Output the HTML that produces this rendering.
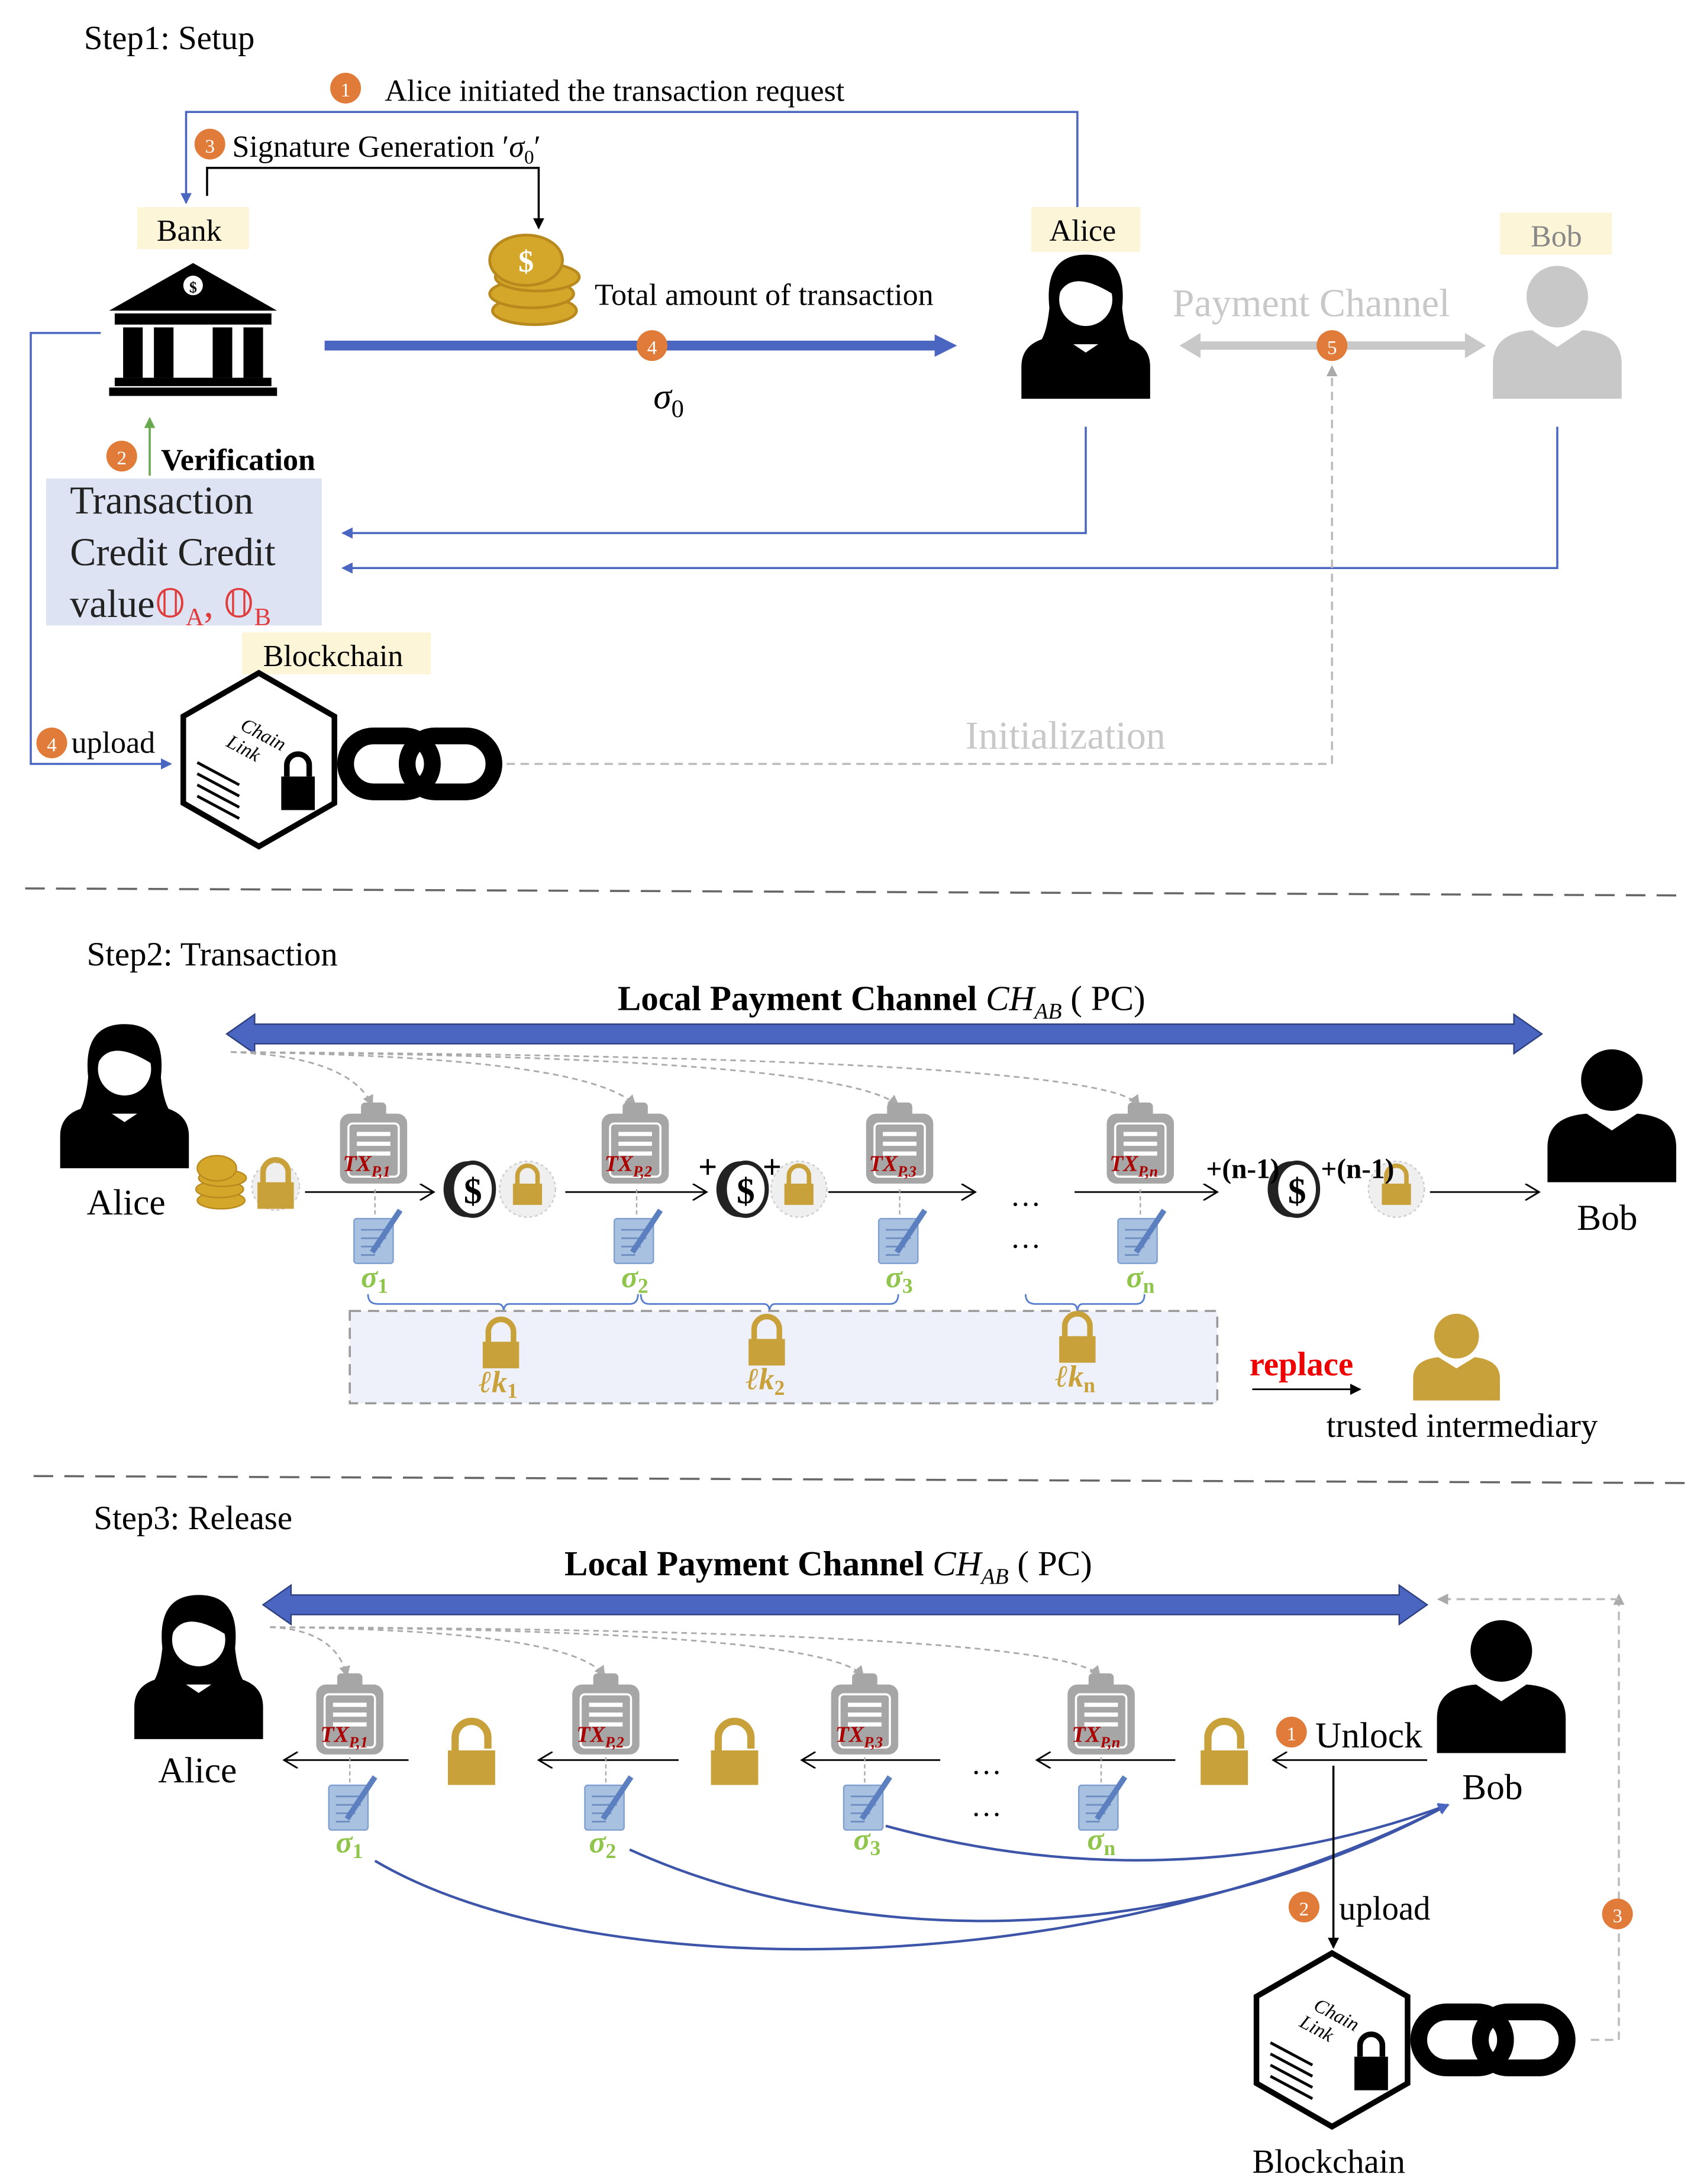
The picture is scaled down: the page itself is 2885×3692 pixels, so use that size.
<!DOCTYPE html>
<html><head><meta charset="utf-8"><style>
html,body{margin:0;padding:0;background:#fff;}
svg{display:block;}
text{font-family:"Liberation Serif",serif;}
</style></head><body>
<svg width="2885" height="3692" viewBox="0 0 1220 1561" preserveAspectRatio="none" xmlns="http://www.w3.org/2000/svg">
<defs>
<marker id="ab" markerWidth="8" markerHeight="8" refX="7" refY="4" orient="auto" markerUnits="userSpaceOnUse"><path d="M0,0 L8,4 L0,8z" fill="#4a66c0"/></marker>
<marker id="ak" markerWidth="8" markerHeight="8" refX="7" refY="4" orient="auto" markerUnits="userSpaceOnUse"><path d="M0,0 L8,4 L0,8z" fill="#000"/></marker>
<marker id="ao" markerWidth="12" markerHeight="12" refX="10" refY="6" orient="auto" markerUnits="userSpaceOnUse"><path d="M0,0 L10,6 L0,12" fill="none" stroke="#000" stroke-width="1.2"/></marker>
<marker id="ag" markerWidth="8" markerHeight="8" refX="7" refY="4" orient="auto" markerUnits="userSpaceOnUse"><path d="M0,0 L8,4 L0,8z" fill="#aaa"/></marker>
<marker id="agr" markerWidth="8" markerHeight="8" refX="7" refY="4" orient="auto" markerUnits="userSpaceOnUse"><path d="M0,0 L8,4 L0,8z" fill="#6aa84f"/></marker>
<g id="person"><circle cx="0" cy="-28" r="22"/><path d="M-46,45 L-46,20 Q-46,-2 -18,-4 L0,8 L18,-4 Q46,-2 46,20 L46,45z"/></g>
<g id="woman"><path d="M-26,-20 Q-30,-58 0,-58 Q30,-58 26,-20 Q28,0 34,6 L-34,6 Q-28,0 -26,-20z"/><circle cx="0" cy="-26" r="19" fill="#fff"/><path d="M-19,-30 Q-10,-48 19,-30 L19,-44 Q0,-56 -19,-44z"/><path d="M-46,45 L-46,22 Q-46,2 -18,0 L0,12 L18,0 Q46,2 46,22 L46,45z"/></g>
<g id="clip"><rect x="-24" y="-22" width="48" height="50" rx="7" fill="#a6a6a6"/><rect x="-18" y="-15" width="36" height="38" rx="3" fill="none" stroke="#fff" stroke-width="1.5"/><rect x="-9" y="-30" width="18" height="11" rx="3" fill="#a6a6a6"/><rect x="-12" y="-9" width="24" height="3" fill="#fff"/><rect x="-12" y="-2" width="24" height="3" fill="#fff"/><rect x="-12" y="5" width="24" height="3" fill="#fff"/></g>
<g id="sig"><rect x="-17" y="-14" width="28" height="32" rx="2" fill="#a9c1e1" stroke="#7e9fd0"/><path d="M-12,-6h18M-12,0h18M-12,6h14M-12,12h10" stroke="#6f8fc3" stroke-width="1.2"/><path d="M-4,10 L16,-20" stroke="#5b7fbf" stroke-width="4"/></g>
<g id="lock"><path d="M-9,-2 L-9,-10 A9,9 0 0 1 9,-10 L9,-2" fill="none" stroke="#c9a13a" stroke-width="4"/><rect x="-13" y="-3" width="26" height="19" fill="#c9a13a"/></g>
<g id="lockc"><circle r="20" fill="#efefef" stroke="#ccc" stroke-dasharray="2,2"/><use href="#lock" transform="scale(0.8) translate(0,-2)"/></g>
<g id="coin"><ellipse cx="-2" rx="17" ry="20" fill="#222"/><ellipse cx="2" rx="15" ry="19" fill="#fff" stroke="#222" stroke-width="3"/><text x="2" y="10" text-anchor="middle" font-family="Liberation Sans,sans-serif" font-weight="bold" font-size="26" fill="#000">$</text></g>
<g id="chainblk"><path d="M0,-62 L54,-31 L54,31 L0,62 L-54,31 L-54,-31z" fill="#fff" stroke="#000" stroke-width="4"/><text x="-14" y="-22" font-size="14" font-style="italic" transform="rotate(28 -14 -22)" font-family="Liberation Mono,monospace">Chain</text><text x="-24" y="-10" font-size="14" font-style="italic" transform="rotate(28 -24 -10)" font-family="Liberation Mono,monospace">Link</text><path d="M-44,2 L-14,18 M-44,10 L-14,26 M-44,18 L-14,34 M-44,26 L-14,42" stroke="#000" stroke-width="2"/><rect x="16" y="12" width="24" height="24" fill="#000"/><path d="M20,12 L20,4 A8,8 0 0 1 36,4 L36,12" fill="none" stroke="#000" stroke-width="4"/></g>
<g id="chain"><rect x="0" y="-20" width="62" height="40" rx="20" fill="none" stroke="#000" stroke-width="12"/><rect x="44" y="-20" width="62" height="40" rx="20" fill="none" stroke="#000" stroke-width="12"/></g>
<g id="num"><circle r="11" fill="#e07b39"/></g>
</defs>

<!-- STEP 1 -->
<text x="60" y="35" font-size="24">Step1: Setup</text>
<polyline points="770,150 770,80 133,80 133,145" fill="none" stroke="#4a66c0" stroke-width="1.5" marker-end="url(#ab)"/>
<use href="#num" x="247" y="63"/><text x="247" y="69" font-size="14" fill="#fff" text-anchor="middle">1</text>
<rect x="268" y="50" width="360" height="26" fill="#fff"/>
<text x="275" y="72" font-size="22">Alice initiated the transaction request</text>
<polyline points="148,140 148,120 385,120 385,163" fill="none" stroke="#000" stroke-width="1.5" marker-end="url(#ak)"/>
<rect x="140" y="90" width="270" height="26" fill="#fff"/>
<use href="#num" x="150" y="103"/><text x="150" y="109" font-size="14" fill="#fff" text-anchor="middle">3</text>
<text x="166" y="112" font-size="22">Signature Generation ′<tspan font-style="italic">σ</tspan><tspan font-size="14" dy="5">0</tspan><tspan dy="-5">′</tspan></text>
<rect x="98" y="148" width="80" height="30" fill="#fdf5d8"/><text x="112" y="172" font-size="22">Bank</text>
<g fill="#000"><path d="M78,222 L138,188 L198,222z"/><circle cx="138" cy="204" r="7" fill="#fff"/><text x="138" y="209" font-size="11" text-anchor="middle" fill="#000" font-weight="bold">$</text><rect x="82" y="224" width="112" height="8"/><rect x="88" y="234" width="14" height="36"/><rect x="110" y="234" width="14" height="36"/><rect x="152" y="234" width="14" height="36"/><rect x="174" y="234" width="14" height="36"/><rect x="82" y="270" width="112" height="6"/><rect x="78" y="277" width="120" height="6"/></g>
<g fill="#d4a62a" stroke="#b8891c" stroke-width="2"><ellipse cx="382" cy="222" rx="30" ry="10"/><ellipse cx="380" cy="210" rx="30" ry="10"/><ellipse cx="384" cy="198" rx="30" ry="10"/><ellipse cx="376" cy="186" rx="26" ry="18"/></g>
<text x="376" y="194" font-size="22" text-anchor="middle" font-weight="bold" fill="#fff">$</text>
<text x="425" y="218" font-size="22">Total amount of transaction</text>
<line x1="232" y1="247" x2="672" y2="247" stroke="#4a66c0" stroke-width="7"/><path d="M668,239 L684,247 L668,255z" fill="#4a66c0"/>
<use href="#num" x="466" y="247"/><text x="466" y="253" font-size="14" fill="#fff" text-anchor="middle">4</text>
<text x="467" y="292" font-size="26" font-style="italic">σ<tspan font-size="18" dy="6" font-style="normal">0</tspan></text>
<rect x="737" y="148" width="78" height="32" fill="#fdf5d8"/><text x="750" y="172" font-size="22">Alice</text>
<use href="#woman" x="776" y="240" fill="#000"/>
<text x="838" y="226" font-size="28" fill="#c8c8c8">Payment Channel</text>
<line x1="855" y1="247" x2="1050" y2="247" stroke="#c8c8c8" stroke-width="6"/><path d="M858,238 L843,247 L858,256z M1047,238 L1062,247 L1047,256z" fill="#c8c8c8"/>
<use href="#num" x="952" y="247"/><text x="952" y="253" font-size="14" fill="#fff" text-anchor="middle">5</text>
<rect x="1072" y="152" width="80" height="30" fill="#fdf5d8"/><text x="1094" y="176" font-size="22" fill="#888">Bob</text>
<use href="#person" x="1113" y="240" fill="#c8c8c8"/>
<line x1="107" y1="340" x2="107" y2="299" stroke="#6aa84f" stroke-width="1.5" marker-end="url(#agr)"/>
<use href="#num" x="87" y="326"/><text x="87" y="332" font-size="14" fill="#fff" text-anchor="middle">2</text>
<text x="115" y="336" font-size="22" font-weight="bold">Verification</text>
<rect x="33" y="342" width="197" height="105" fill="#dde3f3"/>
<text x="50" y="367" font-size="28" fill="#222">Transaction</text>
<text x="50" y="404" font-size="28" fill="#222">Credit Credit</text>
<text x="50" y="441" font-size="28" fill="#222">value<tspan fill="#e03c3c">𝕆<tspan font-size="18" dy="6">A</tspan><tspan dy="-6">,  𝕆</tspan><tspan font-size="18" dy="6">B</tspan></tspan></text>
<polyline points="776,305 776,381 245,381" fill="none" stroke="#4a66c0" stroke-width="1.5" marker-end="url(#ab)"/>
<polyline points="1113,305 1113,406 245,406" fill="none" stroke="#4a66c0" stroke-width="1.5" marker-end="url(#ab)"/>
<polyline points="72,238 22,238 22,546 122,546" fill="none" stroke="#4a66c0" stroke-width="1.5" marker-end="url(#ab)"/>
<rect x="24" y="518" width="90" height="26" fill="#fff"/>
<use href="#num" x="37" y="531"/><text x="37" y="537" font-size="14" fill="#fff" text-anchor="middle">4</text>
<text x="51" y="538" font-size="22">upload</text>
<rect x="173" y="452" width="135" height="30" fill="#fdf5d8"/><text x="188" y="476" font-size="22">Blockchain</text>
<use href="#chainblk" x="185" y="543"/>
<use href="#chain" x="247" y="546"/>
<polyline points="362,546 952,546 952,262" fill="none" stroke="#bbb" stroke-width="1.5" stroke-dasharray="6,4" marker-end="url(#ag)"/>
<rect x="685" y="510" width="170" height="32" fill="#fff"/>
<text x="690" y="535" font-size="28" fill="#c8c8c8">Initialization</text>
<line x1="18" y1="635" x2="1200" y2="640" stroke="#666" stroke-width="1.5" stroke-dasharray="14,8"/>

<!-- STEP 2 -->
<text x="62" y="690" font-size="24">Step2: Transaction</text>
<text x="630" y="722" font-size="25" font-weight="bold" text-anchor="middle">Local Payment Channel <tspan font-style="italic" font-weight="normal">CH</tspan><tspan font-style="italic" font-weight="normal" font-size="16" dy="6">AB</tspan><tspan font-weight="normal" dy="-6"> ( PC)</tspan></text>
<path d="M162,739 L182,725 L182,732 L1082,732 L1082,725 L1102,739 L1082,753 L1082,746 L182,746 L182,753z" fill="#4a66c0" stroke="#2e3f80"/>
<use href="#woman" x="89" y="790" fill="#000"/>
<text x="62" y="868" font-size="26">Alice</text>
<use href="#person" x="1152" y="800" fill="#000"/>
<text x="1127" y="879" font-size="26">Bob</text>
<g fill="none" stroke="#aaa" stroke-dasharray="4,3" stroke-width="1.2">
<path d="M165,752 Q250,755 266,790" marker-end="url(#ag)"/>
<path d="M165,752 Q420,755 454,790" marker-end="url(#ag)"/>
<path d="M165,752 Q600,755 642,790" marker-end="url(#ag)"/>
<path d="M165,752 Q790,755 814,790" marker-end="url(#ag)"/>
</g>
<g fill="#d4a62a" stroke="#b8891c"><ellipse cx="158" cy="858" rx="17" ry="6"/><ellipse cx="157" cy="850" rx="17" ry="6"/><ellipse cx="159" cy="842" rx="17" ry="6"/><ellipse cx="155" cy="835" rx="14" ry="9"/></g>
<circle cx="197" cy="848" r="17" fill="#efefef" stroke="#ccc" stroke-dasharray="2,2"/><use href="#lock" x="197" y="848"/>
<g stroke="#000" stroke-width="1.2" fill="none">
<line x1="218" y1="852" x2="310" y2="852" marker-end="url(#ao)"/>
<line x1="404" y1="852" x2="505" y2="852" marker-end="url(#ao)"/>
<line x1="592" y1="852" x2="697" y2="852" marker-end="url(#ao)"/>
<line x1="768" y1="852" x2="870" y2="852" marker-end="url(#ao)"/>
<line x1="1022" y1="852" x2="1100" y2="852" marker-end="url(#ao)"/>
</g>
<g stroke="#aaa" stroke-dasharray="3,2"><line x1="268" y1="850" x2="268" y2="870"/><line x1="455" y1="850" x2="455" y2="870"/><line x1="643" y1="850" x2="643" y2="870"/><line x1="815" y1="850" x2="815" y2="870"/></g>
<use href="#clip" x="267" y="818"/><text x="245" y="837" font-size="16" font-weight="bold" font-style="italic" fill="#a00">TX<tspan font-size="11" dy="4">P,1</tspan></text>
<use href="#clip" x="454" y="818"/><text x="432" y="837" font-size="16" font-weight="bold" font-style="italic" fill="#a00">TX<tspan font-size="11" dy="4">P,2</tspan></text>
<use href="#clip" x="643" y="818"/><text x="621" y="837" font-size="16" font-weight="bold" font-style="italic" fill="#a00">TX<tspan font-size="11" dy="4">P,3</tspan></text>
<use href="#clip" x="815" y="818"/><text x="793" y="837" font-size="16" font-weight="bold" font-style="italic" fill="#a00">TX<tspan font-size="11" dy="4">P,n</tspan></text>
<use href="#sig" x="270" y="885"/><use href="#sig" x="456" y="885"/><use href="#sig" x="645" y="885"/><use href="#sig" x="816" y="885"/>
<g font-size="22" font-weight="bold" font-style="italic" fill="#8fc54a"><text x="258" y="920">σ<tspan font-size="15" dy="4" font-style="normal">1</tspan></text><text x="444" y="920">σ<tspan font-size="15" dy="4" font-style="normal">2</tspan></text><text x="633" y="920">σ<tspan font-size="15" dy="4" font-style="normal">3</tspan></text><text x="805" y="920">σ<tspan font-size="15" dy="4" font-style="normal">n</tspan></text></g>
<use href="#coin" x="336" y="850"/><use href="#lockc" x="377" y="850"/>
<use href="#coin" x="531" y="850"/><use href="#lockc" x="571" y="850"/>
<text x="499" y="842" font-size="24" font-weight="bold">+</text><text x="545" y="842" font-size="24" font-weight="bold">+</text>
<use href="#coin" x="925" y="850"/><use href="#lockc" x="998" y="850"/>
<text x="862" y="842" font-size="20" font-weight="bold">+(n-1)</text><text x="944" y="842" font-size="20" font-weight="bold">+(n-1)</text>
<text x="722" y="862" font-size="22">…</text><text x="722" y="892" font-size="22">…</text>
<g fill="none" stroke="#5b7fcf" stroke-width="1.2">
<path d="M263,925 Q263,932 270,932 L356,932 Q360,932 360,938 Q360,932 364,932 L450,932 Q456,932 456,925"/>
<path d="M458,925 Q458,932 464,932 L546,932 Q550,932 550,938 Q550,932 554,932 L636,932 Q642,932 642,925"/>
<path d="M733,925 Q733,932 740,932 L766,932 Q770,932 770,938 Q770,932 774,932 L812,932 Q818,932 818,925"/>
</g>
<rect x="250" y="937" width="620" height="66" fill="#eef1fa" stroke="#999" stroke-width="1.5" stroke-dasharray="8,5"/>
<use href="#lock" x="358" y="962"/><use href="#lock" x="548" y="960"/><use href="#lock" x="770" y="958"/>
<g font-size="22" font-weight="bold" font-style="italic" fill="#c9a13a"><text x="342" y="995">ℓk<tspan font-size="15" dy="4" font-style="normal">1</tspan></text><text x="533" y="993">ℓk<tspan font-size="15" dy="4" font-style="normal">2</tspan></text><text x="754" y="991">ℓk<tspan font-size="15" dy="4" font-style="normal">n</tspan></text></g>
<text x="893" y="983" font-size="24" font-weight="bold" fill="#e00">replace</text>
<line x1="895" y1="993" x2="972" y2="993" stroke="#000" stroke-width="1.2" marker-end="url(#ak)"/>
<g fill="#c9a13a"><circle cx="1041" cy="955" r="16"/><path d="M1010,1001 L1010,985 Q1010,972 1028,970 L1041,978 L1054,970 Q1072,972 1072,985 L1072,1001z"/></g>
<text x="948" y="1027" font-size="24">trusted intermediary</text>
<line x1="24" y1="1055" x2="1205" y2="1060" stroke="#666" stroke-width="1.5" stroke-dasharray="14,8"/>

<!-- STEP 3 -->
<text x="67" y="1093" font-size="24">Step3: Release</text>
<text x="592" y="1126" font-size="25" font-weight="bold" text-anchor="middle">Local Payment Channel <tspan font-style="italic" font-weight="normal">CH</tspan><tspan font-style="italic" font-weight="normal" font-size="16" dy="6">AB</tspan><tspan font-weight="normal" dy="-6"> ( PC)</tspan></text>
<path d="M188,1147 L208,1133 L208,1140 L1000,1140 L1000,1133 L1020,1147 L1000,1161 L1000,1154 L208,1154 L208,1161z" fill="#4a66c0" stroke="#2e3f80"/>
<use href="#woman" x="142" y="1198" fill="#000"/>
<text x="113" y="1274" font-size="26">Alice</text>
<use href="#person" x="1073" y="1208" fill="#000"/>
<text x="1045" y="1286" font-size="26">Bob</text>
<g fill="none" stroke="#aaa" stroke-dasharray="4,3" stroke-width="1.2">
<path d="M193,1163 Q240,1165 248,1198" marker-end="url(#ag)"/>
<path d="M193,1163 Q410,1165 432,1198" marker-end="url(#ag)"/>
<path d="M193,1163 Q590,1165 617,1198" marker-end="url(#ag)"/>
<path d="M193,1163 Q760,1165 786,1198" marker-end="url(#ag)"/>
</g>
<g stroke="#000" stroke-width="1.2" fill="none">
<line x1="292" y1="1258" x2="203" y2="1258" marker-end="url(#ao)"/>
<line x1="485" y1="1258" x2="385" y2="1258" marker-end="url(#ao)"/>
<line x1="672" y1="1258" x2="573" y2="1258" marker-end="url(#ao)"/>
<line x1="840" y1="1258" x2="741" y2="1258" marker-end="url(#ao)"/>
<line x1="1020" y1="1258" x2="910" y2="1258" marker-end="url(#ao)"/>
</g>
<g stroke="#aaa" stroke-dasharray="3,2"><line x1="250" y1="1256" x2="250" y2="1275"/><line x1="433" y1="1256" x2="433" y2="1275"/><line x1="618" y1="1256" x2="618" y2="1275"/><line x1="787" y1="1256" x2="787" y2="1275"/></g>
<use href="#clip" x="250" y="1226"/><text x="229" y="1245" font-size="16" font-weight="bold" font-style="italic" fill="#a00">TX<tspan font-size="11" dy="4">P,1</tspan></text>
<use href="#clip" x="433" y="1226"/><text x="412" y="1245" font-size="16" font-weight="bold" font-style="italic" fill="#a00">TX<tspan font-size="11" dy="4">P,2</tspan></text>
<use href="#clip" x="618" y="1226"/><text x="597" y="1245" font-size="16" font-weight="bold" font-style="italic" fill="#a00">TX<tspan font-size="11" dy="4">P,3</tspan></text>
<use href="#clip" x="787" y="1226"/><text x="766" y="1245" font-size="16" font-weight="bold" font-style="italic" fill="#a00">TX<tspan font-size="11" dy="4">P,n</tspan></text>
<use href="#sig" x="252" y="1290"/><use href="#sig" x="435" y="1290"/><use href="#sig" x="620" y="1290"/><use href="#sig" x="788" y="1290"/>
<g font-size="22" font-weight="bold" font-style="italic" fill="#8fc54a"><text x="240" y="1324">σ<tspan font-size="15" dy="4" font-style="normal">1</tspan></text><text x="421" y="1324">σ<tspan font-size="15" dy="4" font-style="normal">2</tspan></text><text x="610" y="1322">σ<tspan font-size="15" dy="4" font-style="normal">3</tspan></text><text x="777" y="1322">σ<tspan font-size="15" dy="4" font-style="normal">n</tspan></text></g>
<g transform="translate(337,1255) scale(1.3)"><path d="M-9,-2 L-9,-10 A9,9 0 0 1 9,-10 L9,-4" fill="none" stroke="#c9a13a" stroke-width="4"/><rect x="-13" y="-3" width="26" height="19" fill="#c9a13a"/></g>
<g transform="translate(525,1255) scale(1.3)"><path d="M-9,-2 L-9,-10 A9,9 0 0 1 9,-10 L9,-4" fill="none" stroke="#c9a13a" stroke-width="4"/><rect x="-13" y="-3" width="26" height="19" fill="#c9a13a"/></g>
<g transform="translate(875,1255) scale(1.3)"><path d="M-9,-2 L-9,-10 A9,9 0 0 1 9,-10 L9,-4" fill="none" stroke="#c9a13a" stroke-width="4"/><rect x="-13" y="-3" width="26" height="19" fill="#c9a13a"/></g>
<text x="694" y="1268" font-size="22">…</text><text x="694" y="1298" font-size="22">…</text>
<g fill="none" stroke="#3d55a8" stroke-width="1.8">
<path d="M268,1330 C420,1420 780,1420 1035,1290" marker-end="url(#ab)"/>
<path d="M450,1322 C600,1390 830,1400 1035,1290" marker-end="url(#ab)"/>
<path d="M633,1305 C760,1340 900,1340 1035,1290" marker-end="url(#ab)"/>
</g>
<use href="#num" x="923" y="1238"/><text x="923" y="1244" font-size="14" fill="#fff" text-anchor="middle">1</text>
<text x="940" y="1249" font-size="26">Unlock</text>
<line x1="953" y1="1262" x2="953" y2="1392" stroke="#000" stroke-width="1.5" marker-end="url(#ak)"/>
<use href="#num" x="932" y="1363"/><text x="932" y="1369" font-size="14" fill="#fff" text-anchor="middle">2</text>
<text x="957" y="1372" font-size="24">upload</text>
<use href="#chainblk" x="952" y="1458"/>
<use href="#chain" x="1014" y="1458"/>
<text x="895" y="1553" font-size="24">Blockchain</text>
<polyline points="1137,1458 1157,1458 1157,1140" fill="none" stroke="#bbb" stroke-width="1.5" stroke-dasharray="6,4" marker-end="url(#ag)"/>
<polyline points="1157,1143 1028,1143" fill="none" stroke="#bbb" stroke-width="1.5" stroke-dasharray="6,4" marker-end="url(#ag)"/>
<use href="#num" x="1156" y="1368"/><text x="1156" y="1374" font-size="14" fill="#fff" text-anchor="middle">3</text>
</svg>
</body></html>
